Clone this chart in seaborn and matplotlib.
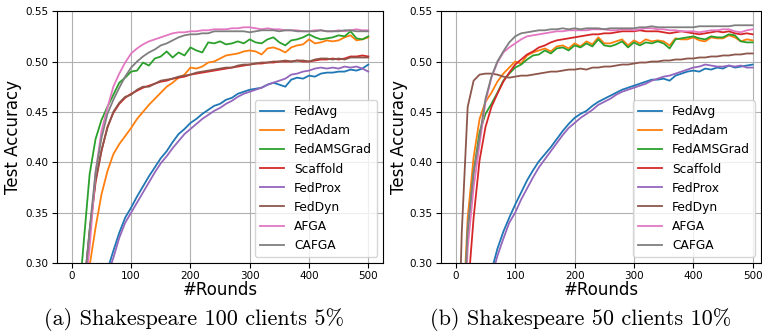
import numpy as np
import pandas as pd
import matplotlib
matplotlib.use("Agg")
import matplotlib.pyplot as plt
import seaborn as sns

# Kommunikationsrunden (Schritt 10)
rounds = list(range(0, 501, 10))
methods = ["FedAvg", "FedAdam", "FedAMSGrad", "Scaffold", "FedProx", "FedDyn", "AFGA", "CAFGA"]

# (a) Shakespeare 100 clients 5%
a_fedavg = [0.15, 0.19, 0.215, 0.235, 0.255, 0.275, 0.293, 0.312, 0.330, 0.345,
            0.355, 0.366, 0.376, 0.386, 0.395, 0.404, 0.411, 0.420, 0.428, 0.433,
            0.439, 0.443, 0.448, 0.452, 0.456, 0.458, 0.462, 0.464, 0.468, 0.470,
            0.472, 0.473, 0.474, 0.477, 0.479, 0.477, 0.475, 0.482, 0.484, 0.483,
            0.486, 0.485, 0.488, 0.489, 0.489, 0.490, 0.490, 0.492, 0.491, 0.493, 0.497]
a_fedadam = [0.15, 0.22, 0.265, 0.297, 0.335, 0.368, 0.391, 0.408, 0.418, 0.426,
             0.434, 0.443, 0.450, 0.457, 0.463, 0.469, 0.475, 0.479, 0.484, 0.487,
             0.494, 0.493, 0.495, 0.499, 0.500, 0.503, 0.506, 0.507, 0.508, 0.510,
             0.511, 0.510, 0.507, 0.513, 0.514, 0.512, 0.509, 0.514, 0.516, 0.517,
             0.522, 0.518, 0.519, 0.521, 0.520, 0.521, 0.524, 0.526, 0.521, 0.522, 0.524]
a_fedams = [0.15, 0.25, 0.32, 0.388, 0.423, 0.442, 0.455, 0.467, 0.479, 0.484,
            0.490, 0.491, 0.499, 0.496, 0.503, 0.505, 0.510, 0.504, 0.509, 0.506,
            0.514, 0.511, 0.509, 0.519, 0.518, 0.520, 0.517, 0.518, 0.520, 0.518,
            0.522, 0.519, 0.518, 0.522, 0.524, 0.519, 0.516, 0.521, 0.522, 0.524,
            0.527, 0.524, 0.522, 0.523, 0.524, 0.526, 0.525, 0.530, 0.523, 0.522, 0.525]
a_scaffold = [0.15, 0.22, 0.27, 0.330, 0.380, 0.411, 0.435, 0.449, 0.458, 0.464,
              0.468, 0.471, 0.474, 0.476, 0.478, 0.480, 0.481, 0.483, 0.484, 0.485,
              0.487, 0.488, 0.489, 0.490, 0.491, 0.492, 0.493, 0.494, 0.495, 0.496,
              0.497, 0.498, 0.498, 0.499, 0.499, 0.500, 0.500, 0.500, 0.501, 0.500,
              0.500, 0.501, 0.502, 0.502, 0.503, 0.502, 0.503, 0.505, 0.505, 0.506, 0.505]
a_fedprox = [0.12, 0.16, 0.19, 0.21, 0.235, 0.26, 0.288, 0.305, 0.325, 0.340,
             0.350, 0.360, 0.370, 0.380, 0.390, 0.399, 0.406, 0.414, 0.421, 0.428,
             0.433, 0.438, 0.443, 0.447, 0.451, 0.454, 0.458, 0.461, 0.465, 0.468,
             0.470, 0.472, 0.474, 0.477, 0.479, 0.481, 0.483, 0.487, 0.488, 0.490,
             0.491, 0.493, 0.494, 0.493, 0.494, 0.493, 0.495, 0.494, 0.495, 0.493, 0.490]
a_feddyn = [0.15, 0.22, 0.272, 0.332, 0.382, 0.412, 0.434, 0.450, 0.459, 0.465,
            0.467, 0.472, 0.475, 0.475, 0.478, 0.481, 0.482, 0.483, 0.485, 0.486,
            0.487, 0.489, 0.490, 0.491, 0.492, 0.493, 0.494, 0.494, 0.496, 0.497,
            0.497, 0.498, 0.499, 0.499, 0.500, 0.500, 0.501, 0.500, 0.501, 0.501,
            0.500, 0.502, 0.503, 0.503, 0.502, 0.503, 0.502, 0.504, 0.504, 0.504, 0.504]
a_afga = [0.12, 0.18, 0.26, 0.315, 0.390, 0.431, 0.454, 0.475, 0.488, 0.499,
          0.508, 0.513, 0.517, 0.520, 0.522, 0.524, 0.526, 0.528, 0.529, 0.529,
          0.530, 0.530, 0.531, 0.531, 0.532, 0.532, 0.532, 0.533, 0.533, 0.534,
          0.534, 0.533, 0.532, 0.533, 0.532, 0.532, 0.531, 0.531, 0.531, 0.530,
          0.530, 0.531, 0.531, 0.530, 0.530, 0.531, 0.530, 0.531, 0.532, 0.531, 0.531]
a_cafga = [0.12, 0.18, 0.27, 0.333, 0.390, 0.424, 0.448, 0.462, 0.474, 0.485,
           0.494, 0.500, 0.505, 0.509, 0.512, 0.516, 0.518, 0.521, 0.524, 0.526,
           0.527, 0.527, 0.528, 0.528, 0.530, 0.530, 0.530, 0.530, 0.530, 0.530,
           0.529, 0.530, 0.531, 0.531, 0.531, 0.530, 0.531, 0.531, 0.530, 0.530,
           0.530, 0.530, 0.531, 0.530, 0.530, 0.530, 0.531, 0.531, 0.530, 0.530, 0.530]

# (b) Shakespeare 50 clients 10%
b_fedavg = [0.15, 0.17, 0.19, 0.21, 0.24, 0.27, 0.292, 0.314, 0.331, 0.345,
            0.358, 0.370, 0.382, 0.392, 0.401, 0.408, 0.415, 0.423, 0.431, 0.438,
            0.444, 0.448, 0.451, 0.456, 0.460, 0.463, 0.466, 0.469, 0.472, 0.474,
            0.476, 0.478, 0.480, 0.482, 0.482, 0.483, 0.481, 0.486, 0.488, 0.490,
            0.491, 0.490, 0.493, 0.492, 0.494, 0.493, 0.496, 0.494, 0.495, 0.496, 0.497]
b_fedadam = [0.10, 0.22, 0.345, 0.405, 0.443, 0.460, 0.469, 0.480, 0.488, 0.494,
             0.500, 0.498, 0.506, 0.509, 0.511, 0.513, 0.510, 0.515, 0.516, 0.513,
             0.518, 0.515, 0.520, 0.517, 0.524, 0.518, 0.518, 0.520, 0.522, 0.516,
             0.521, 0.518, 0.522, 0.520, 0.521, 0.520, 0.516, 0.523, 0.522, 0.522,
             0.524, 0.521, 0.520, 0.524, 0.523, 0.523, 0.526, 0.524, 0.520, 0.522, 0.521]
b_fedams = [0.10, 0.20, 0.330, 0.390, 0.430, 0.448, 0.458, 0.469, 0.481, 0.488,
            0.494, 0.497, 0.502, 0.506, 0.507, 0.511, 0.508, 0.513, 0.514, 0.511,
            0.516, 0.514, 0.518, 0.515, 0.522, 0.516, 0.515, 0.517, 0.520, 0.514,
            0.519, 0.516, 0.519, 0.518, 0.520, 0.518, 0.513, 0.522, 0.523, 0.524,
            0.525, 0.523, 0.522, 0.525, 0.524, 0.524, 0.527, 0.526, 0.520, 0.519, 0.519]
b_scaffold = [0.08, 0.15, 0.27, 0.345, 0.402, 0.435, 0.455, 0.468, 0.480, 0.489,
              0.497, 0.502, 0.507, 0.510, 0.514, 0.516, 0.519, 0.521, 0.522, 0.523,
              0.524, 0.525, 0.526, 0.527, 0.527, 0.528, 0.528, 0.529, 0.530, 0.530,
              0.530, 0.531, 0.530, 0.530, 0.530, 0.529, 0.528, 0.529, 0.530, 0.529,
              0.528, 0.527, 0.528, 0.529, 0.530, 0.529, 0.530, 0.528, 0.527, 0.528, 0.527]
b_fedprox = [0.12, 0.15, 0.17, 0.19, 0.22, 0.25, 0.285, 0.307, 0.324, 0.340,
             0.350, 0.363, 0.374, 0.385, 0.395, 0.403, 0.411, 0.419, 0.427, 0.434,
             0.439, 0.444, 0.448, 0.452, 0.457, 0.460, 0.463, 0.467, 0.470, 0.472,
             0.474, 0.476, 0.478, 0.481, 0.483, 0.485, 0.486, 0.488, 0.490, 0.492,
             0.494, 0.495, 0.497, 0.496, 0.495, 0.495, 0.496, 0.495, 0.496, 0.494, 0.494]
b_feddyn = [0.12, 0.33, 0.455, 0.481, 0.487, 0.488, 0.488, 0.487, 0.485, 0.484,
            0.485, 0.486, 0.486, 0.487, 0.488, 0.489, 0.490, 0.490, 0.491, 0.492,
            0.492, 0.493, 0.492, 0.494, 0.494, 0.495, 0.495, 0.496, 0.497, 0.497,
            0.498, 0.499, 0.499, 0.500, 0.500, 0.501, 0.501, 0.502, 0.502, 0.503,
            0.503, 0.504, 0.504, 0.505, 0.505, 0.506, 0.506, 0.507, 0.507, 0.508, 0.508]
b_afga = [0.08, 0.18, 0.315, 0.375, 0.418, 0.460, 0.484, 0.499, 0.509, 0.514,
          0.518, 0.522, 0.525, 0.526, 0.527, 0.528, 0.529, 0.530, 0.530, 0.531,
          0.531, 0.531, 0.531, 0.532, 0.532, 0.532, 0.531, 0.531, 0.532, 0.532,
          0.531, 0.532, 0.533, 0.533, 0.532, 0.532, 0.531, 0.531, 0.530, 0.530,
          0.530, 0.529, 0.530, 0.531, 0.531, 0.532, 0.532, 0.530, 0.529, 0.531, 0.532]
b_cafga = [0.08, 0.20, 0.335, 0.390, 0.425, 0.463, 0.485, 0.500, 0.510, 0.519,
           0.525, 0.528, 0.529, 0.530, 0.531, 0.531, 0.532, 0.532, 0.533, 0.532,
           0.533, 0.532, 0.533, 0.533, 0.533, 0.532, 0.533, 0.533, 0.533, 0.533,
           0.533, 0.534, 0.534, 0.535, 0.534, 0.534, 0.534, 0.534, 0.534, 0.534,
           0.534, 0.535, 0.535, 0.535, 0.535, 0.535, 0.535, 0.536, 0.536, 0.536, 0.536]

panel_a = [a_fedavg, a_fedadam, a_fedams, a_scaffold, a_fedprox, a_feddyn, a_afga, a_cafga]
panel_b = [b_fedavg, b_fedadam, b_fedams, b_scaffold, b_fedprox, b_feddyn, b_afga, b_cafga]
captions = ["(a) Shakespeare 100 clients 5%", "(b) Shakespeare 50 clients 10%"]


def to_long(series):
    frames = []
    for name, vals in zip(methods, series):
        frames.append(pd.DataFrame({"round": rounds, "acc": vals, "method": name}))
    return pd.concat(frames, ignore_index=True)


fig = plt.figure(figsize=(7.62, 3.34), dpi=100)
ax_a = fig.add_axes([0.0748, 0.2126, 0.428, 0.754])
ax_b = fig.add_axes([0.5787, 0.2126, 0.420, 0.754])
palette = sns.color_palette("tab10", 8)

for ax, series, xmax, ylab_x in [(ax_a, panel_a, 525, -0.108), (ax_b, panel_b, 514, -0.104)]:
    df = to_long(series)
    sns.lineplot(data=df, x="round", y="acc", hue="method", hue_order=methods,
                 palette=palette, linewidth=1.3, ax=ax)
    ax.set_xlim(-25, xmax)
    ax.set_ylim(0.30, 0.55)
    ax.set_xticks([0, 100, 200, 300, 400, 500])
    ax.set_yticks([0.30, 0.35, 0.40, 0.45, 0.50, 0.55])
    ax.yaxis.set_major_formatter(matplotlib.ticker.FormatStrFormatter("%.2f"))
    ax.tick_params(labelsize=7.5, pad=2.5)
    ax.grid(True, color="#b0b0b0", linewidth=0.8)
    ax.set_xlabel("#Rounds", fontsize=12, labelpad=0)
    ax.set_ylabel("Test Accuracy", fontsize=12)
    ax.yaxis.set_label_coords(ylab_x, 0.5)
    handles, labels = ax.get_legend_handles_labels()
    ax.legend(handles, labels, loc="lower right", fontsize=8.8)

fig.text(0.255, 0.042, captions[0], ha="center", va="center", fontsize=16, family="cmr10")
fig.text(0.762, 0.042, captions[1], ha="center", va="center", fontsize=16, family="cmr10")

fig.savefig("out.png", dpi=100)
